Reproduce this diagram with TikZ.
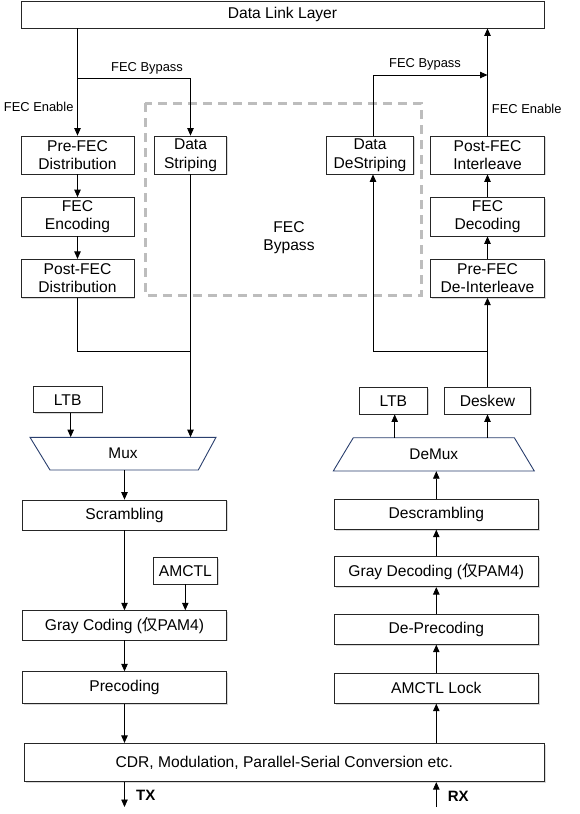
\documentclass[tikz,border=0pt]{standalone}
\usepackage{fontspec}
\setmainfont{Liberation Sans}
\newfontfamily\cjk{Noto Sans CJK SC}
\usetikzlibrary{arrows.meta,shadows}
\definecolor{muxblue}{HTML}{2A3F6E}
\definecolor{dashgray}{HTML}{BDBDBD}
\begin{document}
\begin{tikzpicture}[x=1pt,y=-1pt,
  box/.style={draw=black!85, fill=white, line width=0.8pt, inner sep=0pt, align=center,
    font=\fontsize{15.6}{18.5}\selectfont,
    drop shadow={shadow xshift=1.2pt, shadow yshift=-1.2pt, opacity=0.25, fill=black!60}},
  lbl/.style={font=\fontsize{12.9}{14}\selectfont, inner sep=0pt},
  muxtxt/.style={font=\fontsize{15.4}{18}\selectfont, inner sep=0pt},
  bold/.style={font=\fontsize{15}{18}\selectfont\bfseries, inner sep=0pt},
  ln/.style={line width=0.8pt, draw=black},
  arr/.style={ln, -{Triangle[length=7.5pt, width=6.5pt]}},
  trap/.style={draw=muxblue, line width=0.9pt, fill=white}
]
\useasboundingbox (0,0) rectangle (580,814);

% ---------- boxes ----------
\node[box, minimum width=523pt, minimum height=27pt] (dll) at (282.5,14.5) {Data Link Layer};

\node[box, minimum width=113pt, minimum height=38pt] (pfd) at (77.5,155) {Pre-FEC\\Distribution};
\node[box, minimum width=72.4pt, minimum height=38pt] (ds) at (190.5,155) {Data\\Striping};
\node[box, minimum width=113pt, minimum height=38.5pt] (fenc) at (77.5,216.75) {FEC\\Encoding};
\node[box, minimum width=113pt, minimum height=38pt] (pofd) at (77.5,278.3) {Post-FEC\\Distribution};

\node[box, minimum width=86.6pt, minimum height=38pt] (dds) at (370,155) {Data\\DeStriping};
\node[box, minimum width=113.6pt, minimum height=38pt] (pfi) at (487.5,155) {Post-FEC\\Interleave};
\node[box, minimum width=113.6pt, minimum height=38.5pt] (fdec) at (487.5,216.75) {FEC\\Decoding};
\node[box, minimum width=113.6pt, minimum height=38pt] (pfdi) at (487.5,278.3) {Pre-FEC\\De-Interleave};

% dashed FEC bypass region
\draw[dashgray, line width=3pt, dash pattern=on 9pt off 6pt] (145.3,103.3) rectangle (421,295.7);
\node[muxtxt, align=center, font=\fontsize{15.6}{18}\selectfont] (fbp) at (289,238) {FEC\\Bypass};

% left lower
\node[box, minimum width=68.7pt, minimum height=26pt] (ltbL) at (67.7,399.7) {LTB};
\draw[trap] (30,437.3) -- (216,437.3) -- (198.3,470) -- (50,470) -- cycle;
\node[muxtxt, minimum width=186pt, minimum height=32.7pt] (mux) at (123,453.65) {Mux};
\node[box, minimum width=204.4pt, minimum height=30pt] (scr) at (124.5,515) {Scrambling};
\node[box, minimum width=64pt, minimum height=26.7pt] (amctl) at (185.3,570.7) {AMCTL};
\node[box, minimum width=204.4pt, minimum height=29.3pt] (gc) at (124.5,625.3) {Gray Coding ({\cjk 仅}PAM4)};
\node[box, minimum width=204.4pt, minimum height=31.6pt] (pre) at (124.5,687.5) {Precoding};

% right lower
\node[box, minimum width=68.7pt, minimum height=26.7pt] (ltbR) at (393.3,400.7) {LTB};
\node[box, minimum width=86.4pt, minimum height=26.7pt] (desk) at (487.5,400.7) {Deskew};
\draw[trap] (353.3,437.7) -- (514.3,437.7) -- (534.3,471) -- (333.3,471) -- cycle;
\node[muxtxt, minimum width=161pt, minimum height=33.3pt] (demux) at (433.8,454.35) {DeMux};
\node[box, minimum width=204pt, minimum height=30pt] (dscr) at (436.3,514.3) {Descrambling};
\node[box, minimum width=204pt, minimum height=30pt] (gd) at (436.3,571.7) {Gray Decoding ({\cjk 仅}PAM4)};
\node[box, minimum width=204pt, minimum height=30pt] (dp) at (436.3,629.3) {De-Precoding};
\node[box, minimum width=204pt, minimum height=30pt] (al) at (436.3,688.3) {AMCTL Lock};

\node[box, minimum width=520pt, minimum height=38.4pt] (cdr) at (284.3,762.5) {CDR, Modulation, Parallel-Serial Conversion etc.};

% ---------- coordinates ----------
\coordinate (bypL) at (77.5,78.3);
\coordinate (jL) at (190.5,351.7);
\coordinate (bypR) at (487.5,75);
\coordinate (jR) at (487.5,351);
\coordinate (tx) at (124.5,807);
\coordinate (rx) at (436.3,807);

% ---------- left connectors ----------
\draw[arr] (dll.south -| pfd.north) -- (pfd.north);
\draw[arr] (bypL) -| (ds.north);
\draw[arr] (pfd) -- (fenc);
\draw[arr] (fenc) -- (pofd);
\draw[ln] (pofd.south) |- (jL);
\draw[arr] (ds.south) -- (ds.south |- mux.north);
\draw[arr] ([xshift=3pt]ltbL.south) -- ([xshift=3pt]ltbL.south |- mux.north);
\draw[arr] (scr.north |- mux.south) -- (scr.north);
\draw[arr] (scr) -- (gc);
\draw[arr] (amctl.south) -- (amctl.south |- gc.north);
\draw[arr] (gc) -- (pre);
\draw[arr] (pre.south) -- (pre.south |- cdr.north);
\draw[arr] (cdr.south -| pre.south) -- (tx);

% ---------- right connectors ----------
\draw[arr] (rx) -- (rx |- cdr.south);
\draw[arr] (al.south |- cdr.north) -- (al.south);
\draw[arr] (al) -- (dp);
\draw[arr] (dp) -- (gd);
\draw[arr] (gd) -- (dscr);
\draw[arr] (dscr.north) -- (dscr.north |- demux.south);
\draw[arr] ([xshift=1.4pt]ltbR.south |- demux.north) -- ([xshift=1.4pt]ltbR.south);
\draw[arr] (desk.south |- demux.north) -- (desk.south);
\draw[arr] (desk.north) -- (pfdi.south);
\draw[arr] (jR) -| ([xshift=3pt]dds.south);
\draw[arr] (pfdi) -- (fdec);
\draw[arr] (fdec) -- (pfi);
\draw[arr] (pfi.north) -- (pfi.north |- dll.south);
\draw[arr] ([xshift=3pt]dds.north) |- (bypR);

% ---------- labels ----------
\node[lbl] (lbyL) at (147,68.3) {FEC Bypass};
\node[lbl] (lenL) at (38.7,106.7) {FEC Enable};
\node[lbl] (lbyR) at (425,64) {FEC Bypass};
\node[lbl] (lenR) at (526.7,109.3) {FEC Enable};
\node[bold] (ltx) at (145.8,795.5) {TX};
\node[bold] (lrx) at (458.3,796.5) {RX};
\end{tikzpicture}
\end{document}
